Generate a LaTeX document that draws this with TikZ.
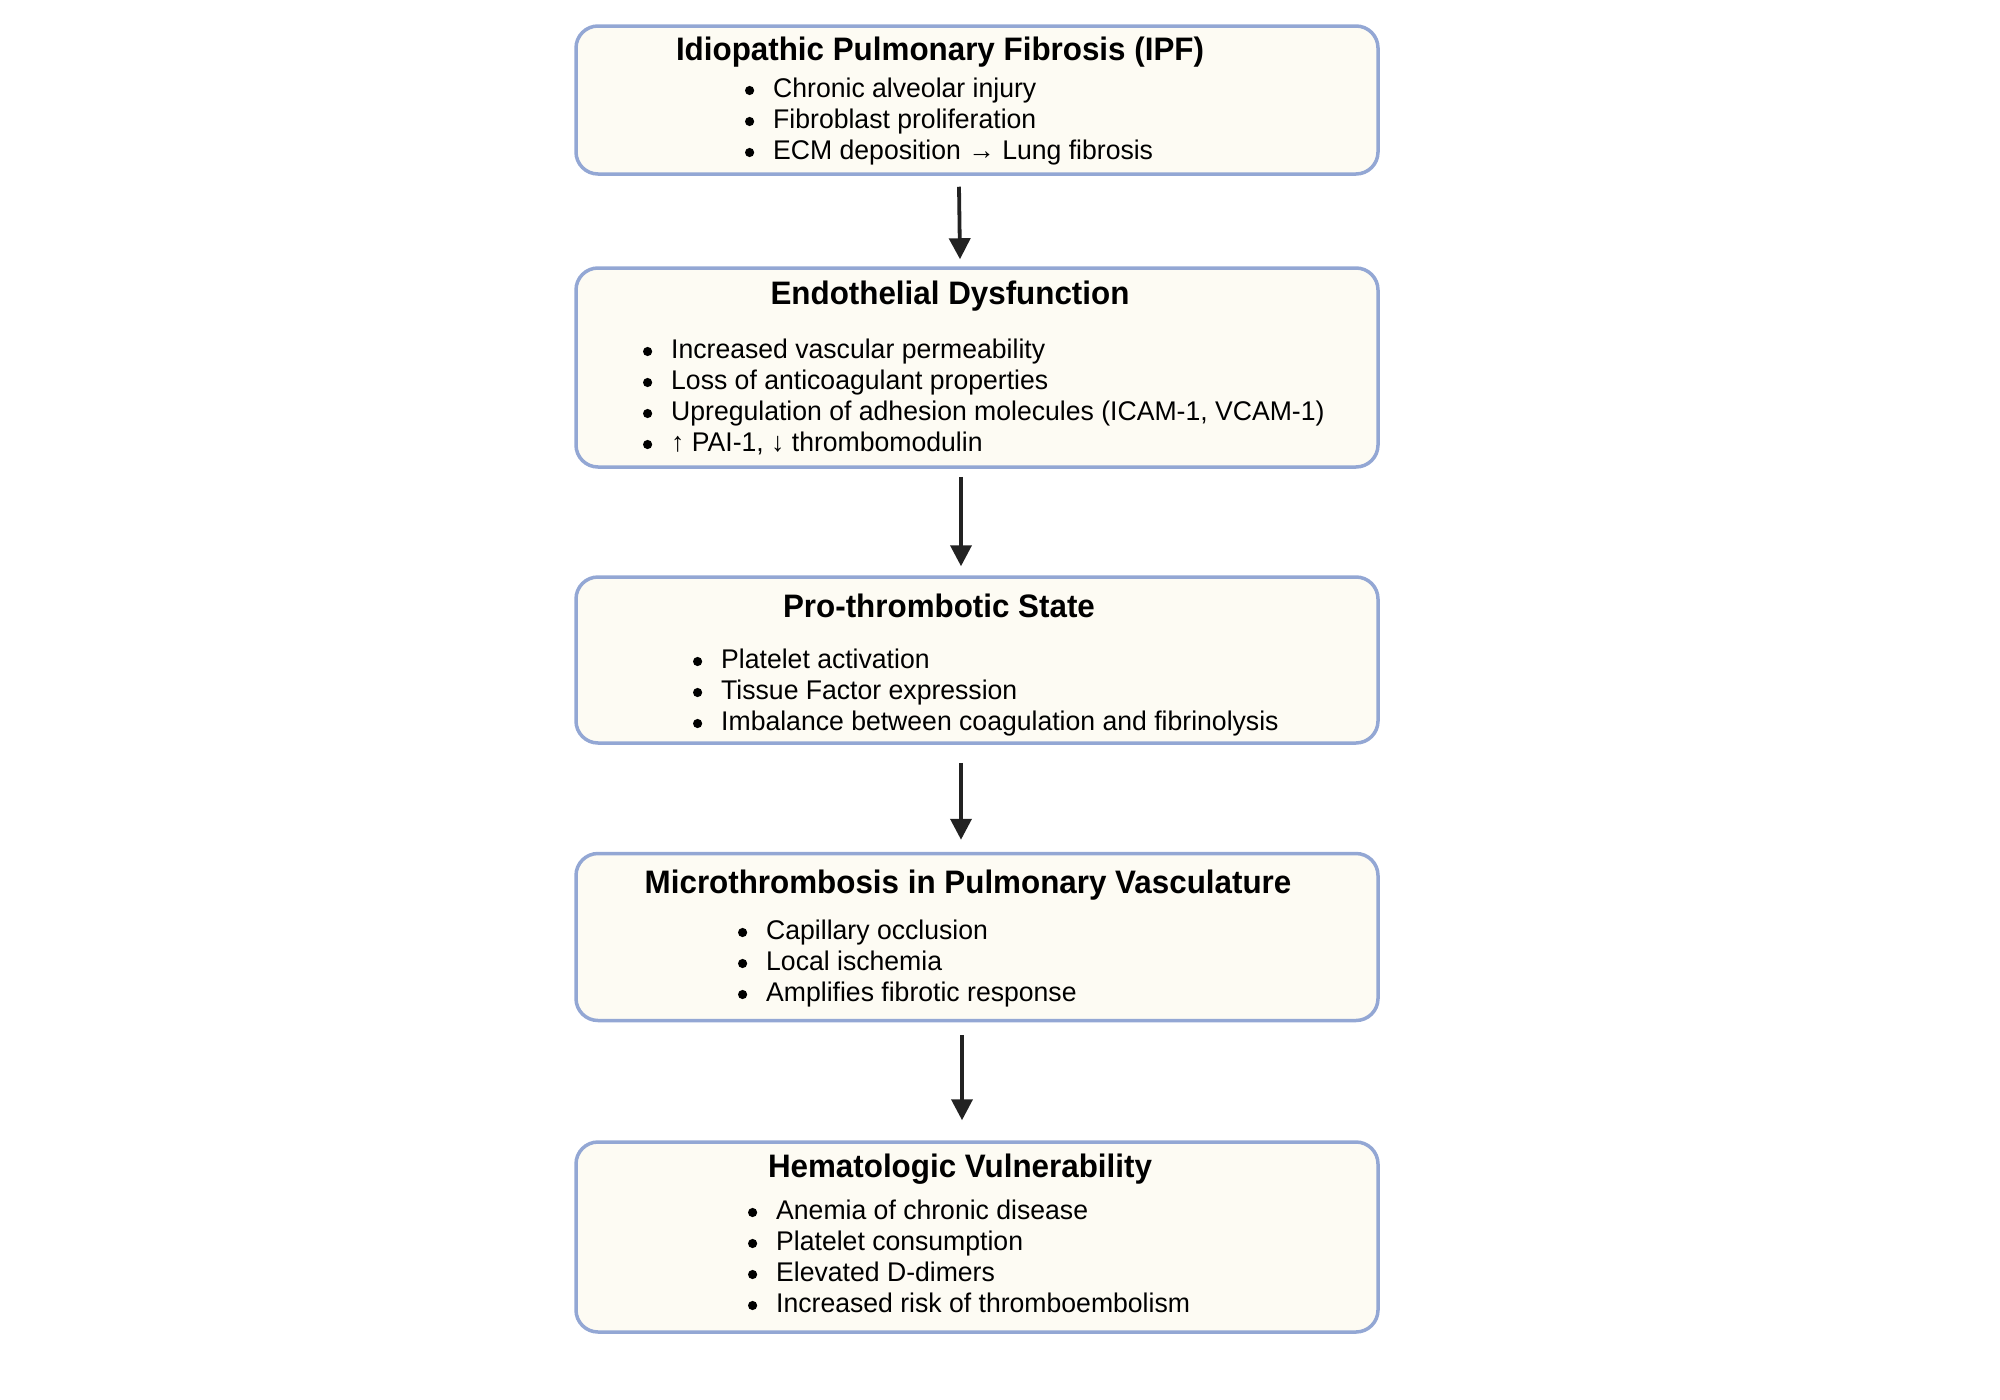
\documentclass[tikz,border=0pt]{standalone}
\usepackage{fontspec}
\setmainfont{Liberation Sans}[FakeStretch=0.985]
\newfontfamily\ttlfont{Liberation Sans Bold}[FakeStretch=0.965]
\usetikzlibrary{arrows.meta,calc}
\definecolor{boxfill}{HTML}{FDFBF3}
\definecolor{boxline}{HTML}{93A7D4}
\definecolor{arrowc}{HTML}{222222}
\newcommand\bul{\llap{\tikz[baseline=0pt]\fill (0pt,6.5pt) circle[radius=4.6pt];\hspace{19pt}}}
\begin{document}
\begin{tikzpicture}[x=1pt,y=-1pt,
  box/.style={draw=boxline,fill=boxfill,line width=3.5pt,rounded corners=22pt,inner sep=0pt,minimum width=802pt},
  ttl/.style={font=\fontsize{32.5}{39}\ttlfont,inner sep=0pt,anchor=base},
  item/.style={font=\fontsize{27}{31}\selectfont,inner sep=0pt,anchor=base west},
  arr/.style={draw=arrowc,line width=3.8pt,-{Triangle[length=21pt,width=21pt]}}]
\useasboundingbox (0,0) rectangle (2000,1400);
% boxes
\node[box,minimum height=148pt] (b1) at (977,100) {};
\node[box,minimum height=199pt] (b2) at (977,367.5) {};
\node[box,minimum height=166pt] (b3) at (977,660) {};
\node[box,minimum height=167pt] (b4) at (977,937) {};
\node[box,minimum height=190pt] (b5) at (977,1237) {};
% titles
\node[ttl] (t1) at (940,60.7) {Idiopathic Pulmonary Fibrosis (IPF)};
\node[ttl] (t2) at (950,304.6) {Endothelial Dysfunction};
\node[ttl] (t3) at (939,617.6) {Pro-thrombotic State};
\node[ttl] (t4) at (968,893) {Microthrombosis in Pulmonary Vasculature};
\node[ttl] (t5) at (960,1177) {Hematologic Vulnerability};
% items
\foreach \t [count=\i from 0] in {Chronic alveolar injury, Fibroblast proliferation, ECM deposition → Lung fibrosis}
  \node[item] (ia\i) at (773,97+31*\i) {\bul\t};
\foreach \t [count=\i from 0] in {Increased vascular permeability, Loss of anticoagulant properties, {Upregulation of adhesion molecules (ICAM-1, VCAM-1)}, {↑ PAI-1, ↓ thrombomodulin}}
  \node[item] (ib\i) at (671,358+31*\i) {\bul\t};
\foreach \t [count=\i from 0] in {Platelet activation, Tissue Factor expression, Imbalance between coagulation and fibrinolysis}
  \node[item] (ic\i) at (721,668+31*\i) {\bul\t};
\foreach \t [count=\i from 0] in {Capillary occlusion, Local ischemia, Amplifies fibrotic response}
  \node[item] (id\i) at (766,939+31*\i) {\bul\t};
\foreach \t [count=\i from 0] in {Anemia of chronic disease, Platelet consumption, Elevated D-dimers, Increased risk of thromboembolism}
  \node[item] (ie\i) at (776,1219+31*\i) {\bul\t};
% arrows
\draw[arr] ($(b1.south)+(-18,11)$) -- ($(b2.north)+(-17,-7)$);
\draw[arr] ($(b2.south)+(-16,8)$) -- ($(b3.north)+(-16,-9)$);
\draw[arr] ($(b3.south)+(-16,18)$) -- ($(b4.north)+(-16,-12)$);
\draw[arr] ($(b4.south)+(-15,13)$) -- ($(b5.north)+(-15,-20)$);
\end{tikzpicture}
\end{document}
